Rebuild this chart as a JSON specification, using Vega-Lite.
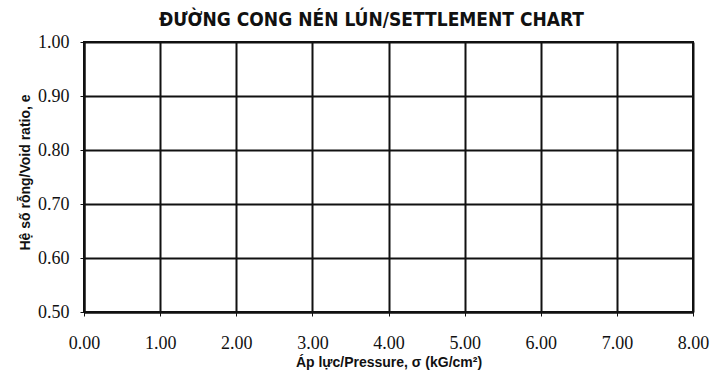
{
  "$schema": "https://vega.github.io/schema/vega-lite/v6.json",
  "autosize": "none",
  "width": 609,
  "height": 270,
  "padding": {"left": 84, "top": 42, "right": 31, "bottom": 64},
  "background": "white",
  "title": {
    "text": "ĐƯỜNG CONG NÉN LÚN/SETTLEMENT CHART",
    "font": "'Liberation Sans Narrow', 'DejaVu Sans Condensed', sans-serif",
    "fontSize": 19,
    "fontWeight": "bold",
    "color": "#111",
    "anchor": "middle",
    "dx": -17,
    "offset": 3
  },
  "data": {
    "values": [
      {"pressure": 0, "e": 0.5},
      {"pressure": 8, "e": 1.0}
    ]
  },
  "mark": {"type": "point", "opacity": 0},
  "encoding": {
    "x": {
      "field": "pressure",
      "type": "quantitative",
      "scale": {"domain": [0, 8], "nice": false, "zero": false},
      "axis": {
        "title": "Áp lực/Pressure, σ (kG/cm²)",
        "values": [0, 1, 2, 3, 4, 5, 6, 7, 8],
        "format": ".2f",
        "labelFlush": false,
        "labelOverlap": false,
        "grid": true,
        "gridColor": "#111",
        "gridWidth": 2,
        "gridOpacity": 1,
        "domainColor": "#111",
        "domainWidth": 2,
        "tickColor": "#111",
        "tickSize": 4,
        "tickWidth": 1,
        "labelFont": "Liberation Serif",
        "labelFontSize": 18,
        "labelColor": "#111",
        "labelPadding": 18,
        "titleFont": "Liberation Sans",
        "titleFontSize": 14,
        "titleFontWeight": "bold",
        "titleColor": "#111",
        "titlePadding": 3
      }
    },
    "y": {
      "field": "e",
      "type": "quantitative",
      "scale": {"domain": [0.5, 1.0], "nice": false, "zero": false},
      "axis": {
        "title": "Hệ số rỗng/Void ratio, e",
        "values": [0.5, 0.6, 0.7, 0.8, 0.9, 1.0],
        "format": ".2f",
        "labelFlush": false,
        "labelOverlap": false,
        "grid": true,
        "gridColor": "#111",
        "gridWidth": 2,
        "gridOpacity": 1,
        "domainColor": "#111",
        "domainWidth": 2,
        "tickColor": "#111",
        "tickSize": 4,
        "tickWidth": 1,
        "labelFont": "Liberation Serif",
        "labelFontSize": 18,
        "labelColor": "#111",
        "labelPadding": 11,
        "titleFont": "Liberation Sans",
        "titleFontSize": 14,
        "titleFontWeight": "bold",
        "titleColor": "#111",
        "titlePadding": 5,
        "titleY": 130
      }
    }
  },
  "config": {"view": {"stroke": "#111", "strokeWidth": 2}}
}
